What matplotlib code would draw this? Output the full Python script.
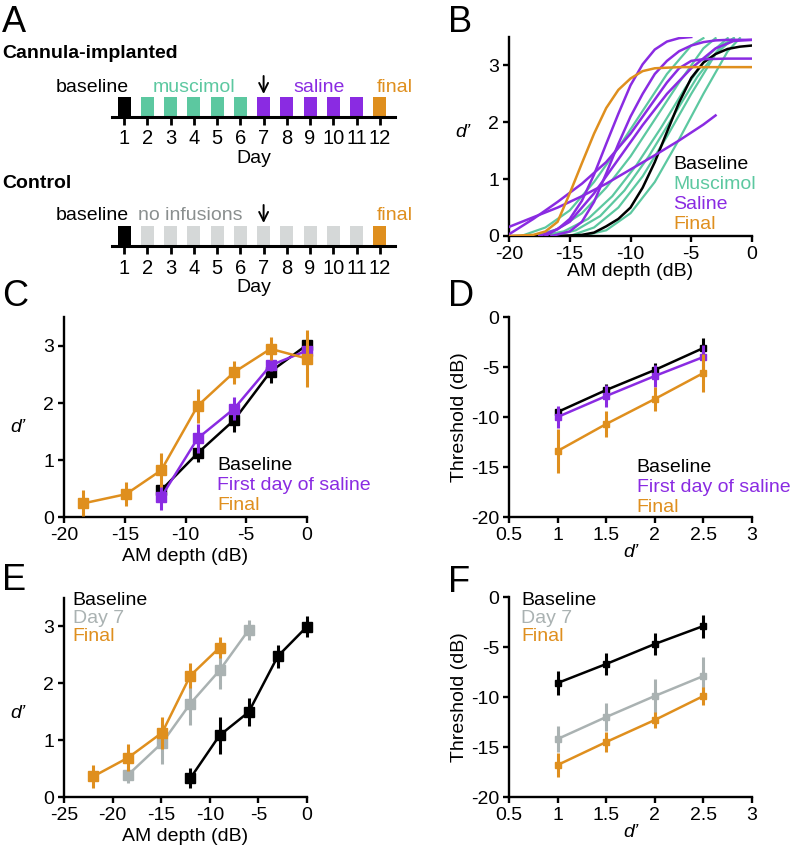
import matplotlib
matplotlib.use("Agg")
import matplotlib.pyplot as plt
import numpy as np

plt.rcParams["font.family"] = ["Liberation Sans", "DejaVu Sans"]
plt.rcParams["axes.unicode_minus"] = False

W, H = 793, 855

BLACK = "#000000"
TEAL = "#5cc8a0"
PURPLE = "#8a2be2"
ORANGE = "#df8f1e"
GRAY = "#aab2b2"
BOX_GRAY = "#d5d8d8"
TEXT_GRAY = "#8a8f8f"

# ---- panel A: schedule
DAYS = list(range(1, 13))
CANNULA_PHASES = ["baseline"] + ["muscimol"] * 5 + ["saline"] * 5 + ["final"]
CONTROL_PHASES = ["baseline"] + ["none"] * 10 + ["final"]
PHASE_COLORS = {"baseline": BLACK, "muscimol": TEAL, "saline": PURPLE, "none": BOX_GRAY, "final": ORANGE}
ARROW_DAY = 7

# ---- panel B: fitted psychometric curves
B_BASELINE_X = [-16, -14, -13, -12, -11, -10, -9, -8, -7, -6, -5, -4, -3, -2, -1, 0]
B_BASELINE_Y = [0, 0.02, 0.06, 0.17, 0.3, 0.5, 0.85, 1.3, 1.83, 2.35, 2.78, 3.05, 3.2, 3.29, 3.33, 3.35]
B_MUSCIMOL = [
    ([-19, -17, -15, -13, -11, -9, -7, -5, -4], [0, 0.15, 0.45, 0.95, 1.55, 2.2, 2.85, 3.35, 3.48]),
    ([-18, -16, -14, -12, -10, -8, -6, -4, -3], [0, 0.12, 0.4, 0.85, 1.4, 2.05, 2.7, 3.3, 3.48]),
    ([-17.5, -15.5, -13.5, -11.5, -9.5, -7.5, -5.5, -3.5, -2], [0, 0.08, 0.3, 0.7, 1.25, 1.9, 2.6, 3.2, 3.48]),
    ([-16.5, -14.5, -12.5, -10.5, -8.5, -6.5, -4.5, -2.5, -1.5], [0, 0.1, 0.35, 0.8, 1.4, 2.1, 2.8, 3.35, 3.48]),
    ([-15, -13, -11, -9, -7, -5, -3, -1.5], [0, 0.15, 0.5, 1.05, 1.75, 2.5, 3.2, 3.48]),
    ([-14, -12, -10, -8, -6, -4, -2, -1], [0, 0.1, 0.4, 0.95, 1.7, 2.5, 3.25, 3.48]),
]
B_SALINE = [
    ([-17.5, -16, -15, -14, -13, -12, -11, -10, -9, -8, -7, -6, -5],
     [0, 0.12, 0.3, 0.62, 1.08, 1.62, 2.15, 2.65, 3.02, 3.28, 3.42, 3.48, 3.5]),
    ([-16.5, -15, -14, -13, -12, -11, -10, -9, -8, -7, -6, -5, -4, -3, -2, 0],
     [0, 0.08, 0.25, 0.6, 1.1, 1.62, 2.1, 2.5, 2.85, 3.08, 3.25, 3.35, 3.41, 3.44, 3.45, 3.45]),
    ([-20, -18, -16, -14, -12, -10, -8, -7, -6, -5, -4, -2, 0],
     [0.03, 0.3, 0.6, 0.92, 1.3, 1.8, 2.4, 2.7, 2.95, 3.08, 3.11, 3.12, 3.12]),
    ([-20, -18, -16, -14, -12, -10, -8, -6, -4, -3],
     [0.16, 0.33, 0.5, 0.7, 0.92, 1.17, 1.42, 1.68, 1.96, 2.12]),
    ([-17, -15, -13, -11, -9, -7, -5, -3, -1.5, 0],
     [0, 0.25, 0.75, 1.35, 1.95, 2.5, 2.95, 3.3, 3.43, 3.45]),
]
B_FINAL_X = [-20, -18, -17, -16, -15, -14, -13, -12, -11, -10, -9, -8, -6, 0]
B_FINAL_Y = [0, 0.02, 0.08, 0.25, 0.75, 1.28, 1.8, 2.25, 2.57, 2.77, 2.9, 2.95, 2.97, 2.97]

# ---- panel C: d' vs AM depth, cannula group
C_BASE_X = [-12, -9, -6, -3, 0]
C_BASE_Y = [0.47, 1.12, 1.70, 2.55, 3.02]
C_BASE_ERR = [0.1, 0.15, 0.2, 0.2, 0.1]
C_SAL_X = [-12, -9, -6, -3, 0]
C_SAL_Y = [0.35, 1.38, 1.90, 2.66, 2.92]
C_SAL_ERR = [0.22, 0.25, 0.2, 0.1, 0.1]
C_FIN_X = [-18.4, -14.9, -12, -9, -6, -3, 0]
C_FIN_Y = [0.24, 0.40, 0.82, 1.95, 2.54, 2.95, 2.78]
C_FIN_ERR = [0.23, 0.21, 0.3, 0.3, 0.2, 0.2, 0.5]

# ---- panel D: threshold vs d', cannula group
D_X = [1, 1.5, 2, 2.5]
D_BASE_Y = [-9.5, -7.3, -5.3, -3.1]
D_BASE_ERR = [0.4, 0.6, 0.7, 1.0]
D_SAL_Y = [-10.0, -7.9, -5.9, -4.0]
D_SAL_ERR = [1.1, 1.1, 1.1, 1.2]
D_FIN_Y = [-13.4, -10.7, -8.2, -5.6]
D_FIN_ERR = [2.2, 1.3, 1.2, 1.9]

# ---- panel E: d' vs AM depth, control group
E_BASE_X = [-12, -9, -6, -3, 0]
E_BASE_Y = [0.33, 1.08, 1.49, 2.47, 2.99]
E_BASE_ERR = [0.18, 0.32, 0.25, 0.2, 0.19]
E_DAY7_X = [-18.4, -14.9, -12, -9, -6]
E_DAY7_Y = [0.39, 0.95, 1.64, 2.22, 2.93]
E_DAY7_ERR = [0.15, 0.37, 0.37, 0.32, 0.18]
E_FIN_X = [-22, -18.4, -14.9, -12, -9]
E_FIN_Y = [0.36, 0.69, 1.13, 2.13, 2.62]
E_FIN_ERR = [0.2, 0.24, 0.28, 0.22, 0.18]

# ---- panel F: threshold vs d', control group
F_X = [1, 1.5, 2, 2.5]
F_BASE_Y = [-8.6, -6.7, -4.7, -2.9]
F_BASE_ERR = [1.2, 1.1, 1.1, 1.15]
F_DAY7_Y = [-14.2, -12.0, -9.9, -7.9]
F_DAY7_ERR = [1.3, 1.4, 1.7, 1.9]
F_FIN_Y = [-16.8, -14.5, -12.3, -9.9]
F_FIN_ERR = [1.2, 1.0, 0.8, 0.9]

FS = 14


def px_rect(left, top, right, bottom):
    return [left / W, 1 - bottom / H, (right - left) / W, (bottom - top) / H]


def style_axes(ax):
    for side in ("top", "right"):
        ax.spines[side].set_visible(False)
    for side in ("left", "bottom"):
        ax.spines[side].set_linewidth(1.7)
    ax.tick_params(direction="out", length=4, width=1.7, labelsize=FS, pad=3)


def panel_letter(fig, x, y, letter):
    fig.text(x / W, 1 - y / H, letter, fontsize=26, ha="left", va="center")


def draw_timeline(fig, line_y, phases, labels):
    ax = fig.add_axes(px_rect(112, line_y - 20, 395, line_y))
    colors = [PHASE_COLORS[p] for p in phases]
    ax.bar(DAYS, np.ones(len(DAYS)), width=0.56, color=colors, align="center")
    ax.set_xlim(0.48, 12.65)
    ax.set_ylim(0, 1)
    for side in ("top", "right", "left"):
        ax.spines[side].set_visible(False)
    ax.spines["bottom"].set_linewidth(2.2)
    ax.set_yticks([])
    ax.set_xticks(DAYS)
    ax.tick_params(axis="x", direction="out", length=6, width=2, labelsize=FS + 0.5, pad=3)
    ax.set_xlabel("Day", fontsize=FS, labelpad=1)
    for text, x, ha, color in labels:
        ax.text(x, 1.5, text, ha=ha, va="center", fontsize=FS, color=color, clip_on=False)
    ax.annotate("", xy=(ARROW_DAY, 1.15), xytext=(ARROW_DAY, 2.05),
                arrowprops=dict(arrowstyle="->", lw=1.4, color=BLACK, mutation_scale=16,
                                shrinkA=0, shrinkB=0),
                annotation_clip=False)
    return ax


def dprime_ylabel(ax, y):
    ax.set_ylabel("d\u2019", rotation=0, fontsize=FS, fontstyle="italic", va="center")
    ax.yaxis.set_label_coords(-0.19, y)


def legend_text(ax, x, y0, step, entries):
    for i, (text, color) in enumerate(entries):
        ax.text(x, y0 - i * step, text, transform=ax.transAxes, fontsize=FS, color=color,
                ha="left", va="center")


def err_line(ax, x, y, err, color, ms, z):
    ax.errorbar(x, y, yerr=err, color=color, marker="s", markersize=ms, lw=1.8,
                elinewidth=2.2, capsize=0, zorder=z, clip_on=False)


def main():
    fig = plt.figure(figsize=(W / 100, H / 100), dpi=100)

    # A
    panel_letter(fig, 2, 22, "A")
    fig.text(2 / W, 1 - 53 / H, "Cannula-implanted", fontsize=FS, fontweight="bold", va="center")
    draw_timeline(fig, 117, CANNULA_PHASES,
                  [("baseline", 1.2, "right", BLACK), ("muscimol", 4.0, "center", TEAL),
                   ("saline", 9.4, "center", PURPLE), ("final", 11.85, "left", ORANGE)])
    fig.text(2 / W, 1 - 183 / H, "Control", fontsize=FS, fontweight="bold", va="center")
    draw_timeline(fig, 246, CONTROL_PHASES,
                  [("baseline", 1.2, "right", BLACK), ("no infusions", 3.85, "center", TEXT_GRAY),
                   ("final", 11.85, "left", ORANGE)])

    # B
    panel_letter(fig, 448, 22, "B")
    ax = fig.add_axes(px_rect(509, 37, 752, 236))
    style_axes(ax)
    for xs, ys in B_MUSCIMOL:
        ax.plot(xs, ys, color=TEAL, lw=1.6, zorder=2)
    ax.plot(B_BASELINE_X, B_BASELINE_Y, color=BLACK, lw=1.8, zorder=3)
    for xs, ys in B_SALINE:
        ax.plot(xs, ys, color=PURPLE, lw=1.8, zorder=4)
    ax.plot(B_FINAL_X, B_FINAL_Y, color=ORANGE, lw=1.8, zorder=5)
    ax.set_xlim(-20, 0)
    ax.set_ylim(0, 3.5)
    ax.set_xticks([-20, -15, -10, -5, 0])
    ax.set_yticks([0, 1, 2, 3])
    ax.set_xlabel("AM depth (dB)", fontsize=FS, labelpad=0)
    dprime_ylabel(ax, 0.52)
    legend_text(ax, 0.675, 0.36, 0.1,
                [("Baseline", BLACK), ("Muscimol", TEAL), ("Saline", PURPLE), ("Final", ORANGE)])

    # C
    panel_letter(fig, 2, 297, "C")
    ax = fig.add_axes(px_rect(64, 317.5, 307, 517))
    style_axes(ax)
    err_line(ax, C_BASE_X, C_BASE_Y, C_BASE_ERR, BLACK, 6.5, 3)
    err_line(ax, C_SAL_X, C_SAL_Y, C_SAL_ERR, PURPLE, 6.5, 4)
    err_line(ax, C_FIN_X, C_FIN_Y, C_FIN_ERR, ORANGE, 6.5, 5)
    ax.set_xlim(-20, 0)
    ax.set_ylim(0, 3.5)
    ax.set_xticks([-20, -15, -10, -5, 0])
    ax.set_yticks([0, 1, 2, 3])
    ax.set_xlabel("AM depth (dB)", fontsize=FS, labelpad=3)
    dprime_ylabel(ax, 0.45)
    legend_text(ax, 0.63, 0.26, 0.1,
                [("Baseline", BLACK), ("First day of saline", PURPLE), ("Final", ORANGE)])

    # D
    panel_letter(fig, 448, 297, "D")
    ax = fig.add_axes(px_rect(509, 317, 752, 517))
    style_axes(ax)
    err_line(ax, D_X, D_BASE_Y, D_BASE_ERR, BLACK, 5, 3)
    err_line(ax, D_X, D_SAL_Y, D_SAL_ERR, PURPLE, 5, 4)
    err_line(ax, D_X, D_FIN_Y, D_FIN_ERR, ORANGE, 5, 5)
    ax.set_xlim(0.5, 3)
    ax.set_ylim(-20, 0)
    ax.set_xticks([0.5, 1, 1.5, 2, 2.5, 3])
    ax.set_xticklabels(["0.5", "1", "1.5", "2", "2.5", "3"])
    ax.set_yticks([0, -5, -10, -15, -20])
    ax.set_xlabel("d\u2019", fontsize=FS, fontstyle="italic", labelpad=0)
    ax.set_ylabel("Threshold (dB)", fontsize=FS, labelpad=2)
    legend_text(ax, 0.525, 0.25, 0.1,
                [("Baseline", BLACK), ("First day of saline", PURPLE), ("Final", ORANGE)])

    # E
    panel_letter(fig, 2, 580, "E")
    ax = fig.add_axes(px_rect(64, 597.5, 307, 797))
    style_axes(ax)
    err_line(ax, E_DAY7_X, E_DAY7_Y, E_DAY7_ERR, GRAY, 6.5, 3)
    err_line(ax, E_FIN_X, E_FIN_Y, E_FIN_ERR, ORANGE, 6.5, 4)
    err_line(ax, E_BASE_X, E_BASE_Y, E_BASE_ERR, BLACK, 6.5, 5)
    ax.set_xlim(-25, 0)
    ax.set_ylim(0, 3.5)
    ax.set_xticks([-25, -20, -15, -10, -5, 0])
    ax.set_yticks([0, 1, 2, 3])
    ax.set_xlabel("AM depth (dB)", fontsize=FS, labelpad=3)
    dprime_ylabel(ax, 0.42)
    legend_text(ax, 0.035, 0.985, 0.09, [("Baseline", BLACK), ("Day 7", GRAY), ("Final", ORANGE)])

    # F
    panel_letter(fig, 448, 582, "F")
    ax = fig.add_axes(px_rect(509, 597, 752, 797))
    style_axes(ax)
    err_line(ax, F_X, F_BASE_Y, F_BASE_ERR, BLACK, 5, 3)
    err_line(ax, F_X, F_DAY7_Y, F_DAY7_ERR, GRAY, 5, 4)
    err_line(ax, F_X, F_FIN_Y, F_FIN_ERR, ORANGE, 5, 5)
    ax.set_xlim(0.5, 3)
    ax.set_ylim(-20, 0)
    ax.set_xticks([0.5, 1, 1.5, 2, 2.5, 3])
    ax.set_xticklabels(["0.5", "1", "1.5", "2", "2.5", "3"])
    ax.set_yticks([0, -5, -10, -15, -20])
    ax.set_xlabel("d\u2019", fontsize=FS, fontstyle="italic", labelpad=0)
    ax.set_ylabel("Threshold (dB)", fontsize=FS, labelpad=2)
    legend_text(ax, 0.05, 0.985, 0.09, [("Baseline", BLACK), ("Day 7", GRAY), ("Final", ORANGE)])

    fig.savefig("out.png", dpi=100)
    plt.close(fig)


if __name__ == "__main__":
    main()
